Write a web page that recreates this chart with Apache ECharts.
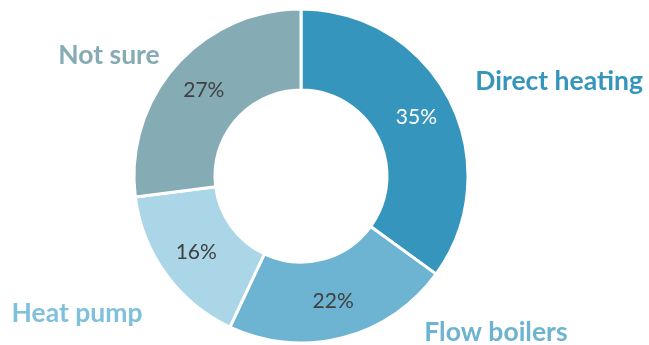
<!DOCTYPE html>
<html>
<head>
<meta charset="utf-8">
<script src="https://cdn.jsdelivr.net/npm/echarts@6/dist/echarts.min.js"></script>
<style>html,body{margin:0;padding:0;background:#fff;}#c{width:649px;height:345px;}</style>
</head>
<body>
<div id="c"></div>
<script>
const categories = ['Direct heating', 'Flow boilers', 'Heat pump', 'Not sure'];
const values = [35, 22, 16, 27];
const sliceColors = ['#3595BC', '#6DB3D2', '#ABD6E8', '#85ABB5'];
const nameColors = ['#3595BC', '#6DB3D2', '#7FC1DD', '#85ABB5'];
const pctColors = ['#FFFFFF', '#404040', '#404040', '#404040'];
// label leader geometry (hidden lines) per category
const lineLen = [42, -5, 66, 16];
const lineLen2 = [-17, 78, -35, -1];

const chart = echarts.init(document.getElementById('c'), null, {renderer: 'canvas'});
const center = [301, 176];
const radius = [86, 167];

const nameData = categories.map((c, i) => ({
  name: c, value: values[i],
  label: {color: nameColors[i]},
  labelLine: {length: lineLen[i], length2: lineLen2[i]}
}));
const pctData = categories.map((c, i) => ({
  name: c, value: values[i],
  itemStyle: {color: sliceColors[i]},
  label: {color: pctColors[i]}
}));

chart.setOption({
  animation: false,
  series: [
    {
      type: 'pie', left: 0, top: 0, right: 0, bottom: -40,
      center: center, radius: radius, startAngle: 90, clockwise: true,
      silent: true,
      itemStyle: {color: 'rgba(0,0,0,0)', borderWidth: 0},
      label: {
        show: true, position: 'outside', formatter: '{b}',
        fontFamily: 'Lato', fontWeight: 'bold', fontSize: 26.5,
        width: 240, overflow: 'none', distanceToLabelLine: 5
      },
      labelLine: {show: false},
      emphasis: {disabled: true},
      data: nameData
    },
    {
      type: 'pie', left: 0, top: 0, right: 0, bottom: -40,
      center: center, radius: radius, startAngle: 90, clockwise: true,
      itemStyle: {borderColor: '#ffffff', borderWidth: 3},
      label: {
        show: true, position: 'inside', formatter: '{d}%',
        fontFamily: 'Lato', fontSize: 21
      },
      labelLine: {show: false},
      emphasis: {disabled: true},
      data: pctData
    }
  ]
});
</script>
</body>
</html>
